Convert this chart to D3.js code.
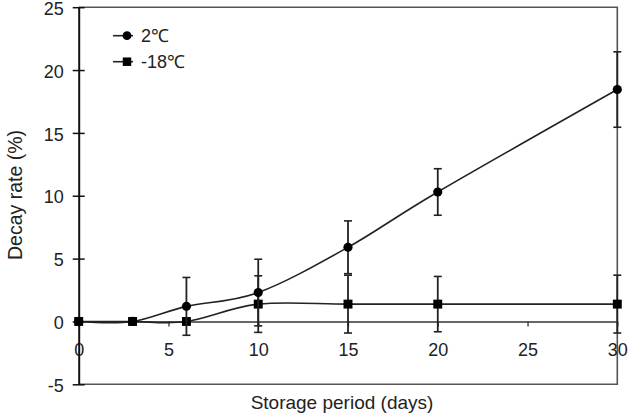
<!DOCTYPE html>
<html>
<head>
<meta charset="utf-8">
<script src="https://cdn.jsdelivr.net/npm/d3@7"></script>
<style>
  html, body { margin: 0; padding: 0; background: #fff; }
  text { font-family: "Liberation Sans", Arial, sans-serif; fill: #222; }
</style>
</head>
<body>
<svg id="chart" width="631" height="414"></svg>
<script>
const days = [0, 3, 6, 10, 15, 20, 30];
const series2 = [0, 0, 1.2, 2.3, 5.9, 10.3, 18.45];
const series2Err = [0, 0, 2.3, 2.65, 2.1, 1.85, 3.0];
const series18 = [0, 0, 0, 1.38, 1.38, 1.38, 1.38];
const series18Err = [0, 0, 0, 2.25, 2.3, 2.2, 2.3];
const seriesNames = ["2℃", "-18℃"];
const xTicks = [0, 5, 10, 15, 20, 25, 30];
const yTicks = [-5, 0, 5, 10, 15, 20, 25];

const svg = d3.select("#chart");
const x = d3.scaleLinear().domain([0, 30]).range([78.7, 617.3]);
const y = d3.scaleLinear().domain([-5, 25]).range([384.3, 7.2]);
const fmt = d => String(d);

// frame (top, right, bottom)
svg.append("path")
  .attr("d", `M${x(0)},${y(25)}H${x(30)}V${y(-5)}H${x(0)}`)
  .attr("fill", "none").attr("stroke", "#555").attr("stroke-width", 1.6);

// zero line with x ticks
const xAxis = svg.append("g").attr("transform", `translate(0,${y(0)})`)
  .call(d3.axisBottom(x).tickValues(xTicks).tickFormat(fmt).tickSize(5).tickSizeOuter(0).tickPadding(17));
xAxis.select(".domain").attr("stroke", "#333").attr("stroke-width", 1.6);
xAxis.selectAll(".tick line").attr("stroke", "#333").attr("stroke-width", 1.3);
xAxis.selectAll("text").attr("font-size", 18).attr("fill", "#222");

// y axis
const yAxis = svg.append("g").attr("transform", `translate(${x(0)},0)`)
  .call(d3.axisLeft(y).tickValues(yTicks).tickFormat(fmt).tickSize(6).tickSizeOuter(0).tickPadding(9));
yAxis.select(".domain").attr("stroke", "#111").attr("stroke-width", 2);
yAxis.selectAll(".tick line").attr("stroke", "#111").attr("stroke-width", 1.5).attr("x2", 6).attr("x1", -6);
yAxis.selectAll("text").attr("font-size", 18).attr("fill", "#222").attr("dy", "0.4em");

const curve = d3.curveCardinal.tension(0);
const line = d3.line().x(d => x(d.x)).y(d => y(d.y)).curve(curve);

function drawSeries(vals, errs, shape) {
  const data = days.map((d, i) => ({ x: d, y: vals[i], e: errs[i] }));
  svg.append("path").datum(data).attr("d", line)
    .attr("fill", "none").attr("stroke", "#222").attr("stroke-width", 1.6);
  const eb = svg.append("g");
  data.filter(d => d.e > 0).forEach(d => {
    const cx = x(d.x);
    eb.append("line").attr("x1", cx).attr("x2", cx).attr("y1", y(d.y - d.e)).attr("y2", y(d.y + d.e))
      .attr("stroke", "#222").attr("stroke-width", 1.8);
    [d.y - d.e, d.y + d.e].forEach(v => {
      eb.append("line").attr("x1", cx - 4).attr("x2", cx + 4).attr("y1", y(v)).attr("y2", y(v))
        .attr("stroke", "#222").attr("stroke-width", 1.6);
    });
  });
  const sym = d3.symbol().type(shape === "circle" ? d3.symbolCircle : d3.symbolSquare)
    .size(shape === "circle" ? 66 : 80);
  svg.append("g").selectAll("path").data(data).join("path")
    .attr("d", sym).attr("transform", d => `translate(${x(d.x)},${y(d.y)})`)
    .attr("fill", "#000");
}
drawSeries(series18, series18Err, "square");
drawSeries(series2, series2Err, "circle");

// legend
const legend = svg.append("g");
[["circle", 35.7], ["square", 61.7]].forEach(([shape, ly], i) => {
  legend.append("line").attr("x1", 113).attr("x2", 133).attr("y1", ly).attr("y2", ly)
    .attr("stroke", "#222").attr("stroke-width", 1.6);
  const sym = d3.symbol().type(shape === "circle" ? d3.symbolCircle : d3.symbolSquare)
    .size(shape === "circle" ? 60 : 72);
  legend.append("path").attr("d", sym).attr("transform", `translate(127,${ly})`).attr("fill", "#000");
  legend.append("text").attr("x", 141).attr("y", ly).attr("dy", "0.35em")
    .attr("font-size", 18).text(seriesNames[i]);
});

// axis titles
svg.append("text").attr("x", 342).attr("y", 409).attr("text-anchor", "middle")
  .attr("font-size", 19).text("Storage period (days)");
svg.append("text").attr("transform", `translate(22,195) rotate(-90)`).attr("text-anchor", "middle")
  .attr("font-size", 19.5).text("Decay rate (%)");
</script>
</body>
</html>
